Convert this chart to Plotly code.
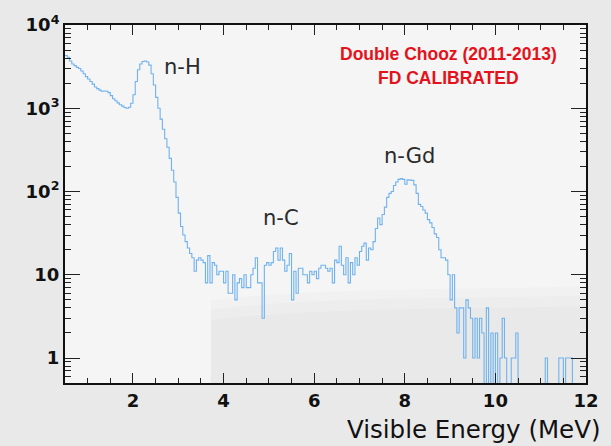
import numpy as np
import plotly.graph_objects as go

# ---- data (0.05 MeV bins from 0.5 to 12.0 MeV) ----
bin_start = 0.5
bin_width = 0.05

counts_low = [4300, 4100, 3700, 3400, 3250, 3100, 3000, 2800, 2600, 2400,
              2250, 2100, 1950, 1800, 1720, 1650, 1600, 1610, 1600, 1540,
              1420, 1300, 1230, 1160, 1100, 1060, 1020, 1000, 1030, 1150,
              1450, 2100, 2900, 3400, 3650, 3700, 3600, 3300, 2600, 1900,
              1350, 1000, 740, 560, 430, 340, 250, 180, 130, 85,
              55, 38, 30, 25, 21, 18, 16, 11]

counts_mid = [15, 16, 15, 14, 8, 17, 8, 14, 13, 10,
              11, 11, 8, 11, 6, 6, 10, 5, 8, 9,
              7, 10, 7, 7, 10, 12, 16, 8, 8, 3,
              13, 14, 13, 14, 19, 21, 15, 21, 15, 11,
              13, 18, 5, 11, 6, 12, 12, 10, 10, 8,
              11, 10, 11, 9, 12, 13, 13, 12, 11, 12,
              8, 15, 14, 22, 13, 10, 16, 8, 14, 10,
              16, 13, 19, 22, 24, 15, 21, 20]

counts_high = [25, 36, 48, 40, 53, 65, 85, 95, 100, 118,
               130, 140, 143, 140, 122, 138, 137, 136, 120, 95,
               70, 66, 60, 55, 46, 42, 37, 31, 28, 20,
               16, 16, 15, 10, 5, 10, 4, 2, 4, 4,
               1, 5, 4, 3, 1, 3, 1, 3, 2, 0,
               4, 0, 2, 0, 2, 0, 1, 3, 1, 0,
               0, 1, 1, 2, 0, 0, 0, 0, 0, 0,
               0, 0, 0, 0, 0, 0, 1, 0, 0, 0,
               0, 0, 1, 1, 0, 1, 1, 1, 0, 0,
               0, 0, 0, 0]

x_tickvals = [2, 4, 6, 8, 10, 12]
x_ticktext = ["2", "4", "6", "8", "10", "12"]
y_tickvals = [1, 10, 100, 1000, 10000]
y_ticktext = ["1", "10", "10<sup>2</sup>", "10<sup>3</sup>", "10<sup>4</sup>"]

labels = ["n-H", "n-C", "n-Gd"]
title_lines = ["Double Chooz (2011-2013)", "FD CALIBRATED"]
x_title = "Visible Energy (MeV)"

# ---- build step histogram ----
counts = np.array(counts_low + counts_mid + counts_high, dtype=float)
edges = bin_start + bin_width * np.arange(len(counts) + 1)
y_plot = np.where(counts > 0, counts, 1e-3)
y_step = np.append(y_plot, y_plot[-1])

fig = go.Figure()
fig.add_trace(go.Scatter(
    x=edges, y=y_step, mode="lines", line_shape="hv",
    line=dict(color="#70b2ee", width=1.1), hoverinfo="skip", showlegend=False))

# minor tick positions
y_minor = [m * 10 ** k for k in range(-1, 4) for m in range(2, 10)]
x_minor = [v / 2 for v in range(1, 25)]

tickfont = dict(family="DejaVu Sans", size=18, color="#111111")

fig.update_layout(
    width=611, height=446,
    margin=dict(l=65, r=17, t=19, b=63),
    paper_bgcolor="#e9e9e9",
    plot_bgcolor="#f5f5f5",
    showlegend=False,
    xaxis=dict(range=[0.5, 12.0], tickvals=x_tickvals,
               ticktext=["<b>%s</b>" % t for t in x_ticktext],
               ticks="inside", ticklen=10, tickwidth=1, tickcolor="#222",
               showline=True, linecolor="#111", linewidth=2, mirror="ticks",
               showgrid=False, zeroline=False, tickfont=tickfont,
               minor=dict(tickvals=x_minor, ticks="inside", ticklen=5,
                          tickcolor="#222", showgrid=False)),
    yaxis=dict(type="log", range=[-0.3, 4.0], tickvals=y_tickvals,
               ticktext=["<b>%s</b>" % t for t in y_ticktext],
               ticks="inside", ticklen=15, tickwidth=1, tickcolor="#222",
               showline=True, linecolor="#111", linewidth=2, mirror="ticks",
               showgrid=False, zeroline=False, tickfont=tickfont,
               minor=dict(tickvals=y_minor, ticks="inside", ticklen=6,
                          tickcolor="#222", showgrid=False)),
)

# soft lower shading inside the plot area (photographed slide)
for y1, col in [(0.27, "#f1f1f1"), (0.245, "#ededed"), (0.215, "#e9e9e9")]:
    fig.add_shape(type="path", xref="paper", yref="paper",
                  path="M 0.28 0 L 0.28 %.3f C 0.5 %.3f 0.8 %.3f 1 %.3f L 1 0 Z"
                       % (y1 - 0.04, y1, y1 - 0.01, y1),
                  fillcolor=col, line_width=0, layer="below")

lab_font = dict(family="DejaVu Sans", size=21, color="#2a2a2a")
for txt, xp, yp in [(labels[0], 0.226, 0.882), (labels[1], 0.414, 0.462), (labels[2], 0.662, 0.634)]:
    fig.add_annotation(text=txt, xref="paper", yref="paper", x=xp, y=yp,
                       xanchor="center", yanchor="middle", showarrow=False, font=lab_font)

red_font = dict(family="Liberation Sans", size=17.5, color="#e3121b")
fig.add_annotation(text="<b>%s</b>" % title_lines[0], xref="paper", yref="paper",
                   x=0.737, y=0.920, xanchor="center", yanchor="middle",
                   showarrow=False, font=red_font)
fig.add_annotation(text="<b>%s</b>" % title_lines[1], xref="paper", yref="paper",
                   x=0.737, y=0.852, xanchor="center", yanchor="middle",
                   showarrow=False, font=red_font)

fig.add_annotation(text=x_title, xref="paper", yref="paper", x=1.03, y=-0.13,
                   xanchor="right", yanchor="middle", showarrow=False,
                   font=dict(family="DejaVu Sans", size=24.5, color="#111111"))

fig.write_html("out.html")
